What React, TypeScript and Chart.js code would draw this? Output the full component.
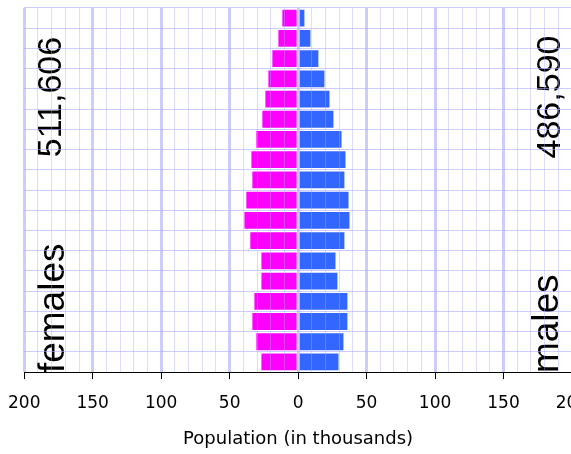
import React, { useEffect, useRef } from "react";
import { Chart, registerables } from "chart.js";

Chart.register(...registerables);

const ageGroups = [
  "85+", "80-84", "75-79", "70-74", "65-69", "60-64", "55-59", "50-54", "45-49",
  "40-44", "35-39", "30-34", "25-29", "20-24", "15-19", "10-14", "5-9", "0-4",
];
const females = [11.5, 14.4, 18.8, 21.7, 23.9, 26.1, 30.5, 34.1, 33.4, 37.8, 39.2, 34.9, 26.8, 26.8, 31.9, 33.4, 30.5, 26.8];
const males = [4.6, 9.0, 14.8, 19.2, 22.9, 25.8, 31.7, 34.6, 33.8, 36.8, 37.5, 33.8, 27.3, 28.7, 36.0, 36.0, 33.1, 29.5];
const femaleTotal = "511,606";
const maleTotal = "486,590";
const femaleLabel = "females";
const maleLabel = "males";
const axisTitle = "Population (in thousands)";
const xMin = -200;
const xMax = 200;

const annotationPlugin = {
  id: "pyramidText",
  afterDatasetsDraw(chart: any) {
    const { ctx, chartArea } = chart;
    const drawRot = (text: string, x: number, y: number, size: number, align: CanvasTextAlign) => {
      ctx.save();
      ctx.translate(x, y);
      ctx.rotate(-Math.PI / 2);
      ctx.font = `${size}px "Liberation Sans", Arial, sans-serif`;
      ctx.fillStyle = "#000";
      ctx.textAlign = align;
      ctx.textBaseline = "alphabetic";
      ctx.fillText(text, 0, 0);
      ctx.restore();
    };
    drawRot(femaleTotal, chartArea.left + 37, chartArea.top + 89, 34, "center");
    drawRot(maleTotal, chartArea.right - 12.5, chartArea.top + 89, 34, "center");
    drawRot(femaleLabel, chartArea.left + 40, chartArea.bottom + 1, 37, "left");
    drawRot(maleLabel, chartArea.right - 14.5, chartArea.bottom + 1, 37, "left");
  },
};

export default function App() {
  const ref = useRef<HTMLCanvasElement>(null);
  useEffect(() => {
    if (!ref.current) return;
    const isMajor = (ctx: any) => ctx.tick && Math.round(ctx.tick.value) % 50 === 0;
    const chart = new Chart(ref.current, {
      type: "bar",
      data: {
        labels: ageGroups,
        datasets: [
          { label: "females", data: females.map((v) => -v), backgroundColor: "#ff00ff", borderWidth: 0 },
          { label: "males", data: males, backgroundColor: "#3366ff", borderWidth: 0 },
        ],
      },
      plugins: [annotationPlugin],
      options: {
        indexAxis: "y",
        responsive: false,
        animation: false,
        devicePixelRatio: 1,
        layout: { padding: { left: 0, right: 28, top: 8, bottom: 0 } },
        datasets: { bar: { categoryPercentage: 1, barPercentage: 0.83 } },
        plugins: { legend: { display: false }, tooltip: { enabled: false } },
        scales: {
          x: {
            type: "linear",
            stacked: true,
            min: xMin,
            max: xMax,
            border: { display: true, color: "#000", width: 1, z: 2 },
            grid: {
              z: 1,
              color: (ctx: any) => (isMajor(ctx) ? "rgba(170,170,255,0.6)" : "rgba(170,170,255,0.4)"),
              lineWidth: (ctx: any) => (isMajor(ctx) ? 3 : 1),
              tickColor: (ctx: any) => (isMajor(ctx) ? "#000" : "rgba(0,0,0,0)"),
              tickWidth: 1,
              tickLength: 7,
            },
            ticks: {
              stepSize: 10,
              autoSkip: false,
              maxRotation: 0,
              padding: 8,
              color: "#000",
              font: { family: '"DejaVu Sans", Verdana, sans-serif', size: 17, lineHeight: 1.96 },
              callback: (v: any) => (Math.round(v) % 50 === 0 ? String(Math.abs(v)) : ""),
            },
            title: {
              display: true,
              text: axisTitle,
              color: "#000",
              font: { family: '"DejaVu Sans", Verdana, sans-serif', size: 18 },
              padding: { top: 0, bottom: 4 },
            },
          },
          y: {
            type: "category",
            stacked: true,
            border: { display: false },
            grid: { z: 1, color: "rgba(170,170,255,0.6)", lineWidth: 1, drawTicks: false, offset: true },
            ticks: { display: false },
          },
        },
      },
    } as any);
    return () => chart.destroy();
  }, []);
  return (
    <div style={{ position: "absolute", left: 0, top: 0, width: 571, height: 454, overflow: "hidden", background: "#fff" }}>
      <canvas ref={ref} width={600} height={454} style={{ display: "block" }} />
    </div>
  );
}
